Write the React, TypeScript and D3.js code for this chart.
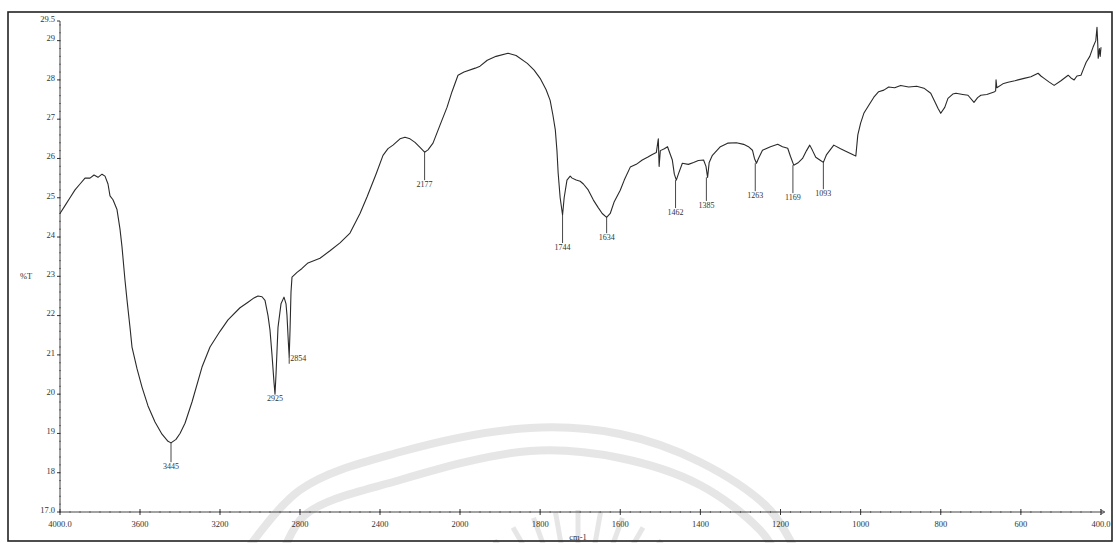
import React from "react";
import * as d3 from "d3";

// ---- Data ----
const wavenumbers = [
  4000, 3975, 3950, 3925, 3900, 3875, 3850, 3830, 3810, 3790, 3775, 3760, 3750, 3735, 3715, 3700, 3690, 3675, 3665, 3650,
  3640, 3615, 3590, 3560, 3525, 3490, 3460, 3445, 3420, 3400, 3375, 3340, 3290, 3250, 3200, 3160, 3100, 3060, 3030, 3010,
  2990, 2975, 2960, 2950, 2940, 2930, 2925, 2920, 2910, 2895, 2880, 2870, 2865, 2858, 2854, 2850, 2845, 2840, 2815, 2790,
  2760, 2700, 2650, 2600, 2550, 2500, 2465, 2420, 2385, 2360, 2335, 2300, 2275, 2250, 2225, 2200, 2177, 2160, 2135, 2100,
  2065, 2040, 2010, 1990, 1962, 1950, 1932, 1910, 1880, 1860, 1832, 1815, 1800, 1785, 1775, 1768, 1762, 1758, 1755, 1750,
  1744, 1740, 1733, 1725, 1720, 1710, 1700, 1692, 1680, 1667, 1655, 1645, 1634, 1625, 1615, 1600, 1590, 1575, 1560, 1545,
  1532, 1520, 1510, 1505, 1503, 1500, 1490, 1482, 1475, 1470, 1465, 1460, 1455, 1445, 1430, 1417, 1405, 1392, 1386, 1382,
  1378, 1370, 1350, 1332, 1310, 1292, 1280, 1270, 1265, 1260, 1255, 1245, 1225, 1207, 1195, 1182, 1175, 1167, 1155, 1145,
  1135, 1127, 1120, 1112, 1100, 1093, 1085, 1067, 1050, 1032, 1020, 1012, 1007, 1000, 992, 980, 967, 955, 942, 930,
  915, 900, 880, 860, 842, 825, 815, 807, 800, 790, 782, 770, 762, 745, 732, 717, 708, 700, 685, 667,
  663, 662, 660, 645, 632, 615, 592, 575, 557, 550, 542, 530, 517, 500, 482, 475, 467, 460, 450, 443,
  437, 428, 420, 413, 410, 408, 407, 404, 402, 400,
];
const transmittance = [
  24.6, 24.8, 25.0, 25.2, 25.35, 25.5, 25.5, 25.58, 25.52, 25.6, 25.55, 25.35, 25.05, 24.95, 24.7, 24.2, 23.75, 22.9, 22.4, 21.7,
  21.2, 20.65, 20.18, 19.7, 19.29, 18.98, 18.8, 18.76, 18.85, 19.0, 19.26, 19.8, 20.69, 21.2, 21.6, 21.89, 22.2, 22.34, 22.45, 22.5,
  22.48, 22.39, 22.0, 21.63, 21.0, 20.3, 20.0, 20.5, 21.7, 22.3, 22.47, 22.3, 22.0, 21.3, 20.95, 21.6, 22.6, 22.98, 23.1, 23.2,
  23.34, 23.46, 23.65, 23.85, 24.1, 24.6, 25.02, 25.6, 26.08, 26.25, 26.34, 26.5, 26.54, 26.5, 26.41, 26.28, 26.16, 26.22, 26.39, 26.85,
  27.3, 27.7, 28.12, 28.2, 28.3, 28.35, 28.5, 28.6, 28.68, 28.62, 28.42, 28.25, 28.04, 27.75, 27.48, 27.1, 26.72, 26.2, 25.63, 25.0,
  24.56, 25.0, 25.45, 25.55, 25.5, 25.45, 25.42, 25.35, 25.2, 24.94, 24.75, 24.6, 24.5, 24.6, 24.9, 25.19, 25.45, 25.78, 25.85, 25.96,
  26.03, 26.1, 26.15, 26.5, 25.8, 26.2, 26.25, 26.3, 26.1, 25.96, 25.6, 25.45, 25.6, 25.88, 25.85, 25.9, 25.95, 25.96, 25.8, 25.52,
  25.9, 26.08, 26.3, 26.39, 26.4, 26.36, 26.3, 26.21, 26.0, 25.88, 26.0, 26.21, 26.3, 26.36, 26.3, 26.26, 26.05, 25.83, 25.9, 26.0,
  26.2, 26.34, 26.2, 26.03, 25.95, 25.9, 26.1, 26.34, 26.25, 26.16, 26.1, 26.06, 26.6, 26.9, 27.15, 27.35, 27.56, 27.7, 27.74, 27.82,
  27.8, 27.86, 27.82, 27.84, 27.79, 27.66, 27.45, 27.28, 27.15, 27.3, 27.53, 27.64, 27.66, 27.63, 27.61, 27.43, 27.55, 27.61, 27.63, 27.69,
  27.72, 28.0, 27.8, 27.9, 27.94, 27.98, 28.04, 28.08, 28.17, 28.1, 28.04, 27.95, 27.86, 27.98, 28.12, 28.05, 28.0, 28.1, 28.12, 28.3,
  28.45, 28.6, 28.83, 29.0, 29.34, 28.9, 28.55, 28.8, 28.6, 28.83,
];

// Annotated peaks: position, and %T level where the label sits
const peakWavenumbers = [3445, 2925, 2854, 2177, 1744, 1634, 1462, 1385, 1263, 1169, 1093];
const peakCurveT = [18.76, 20.0, 20.95, 26.16, 24.56, 24.5, 25.45, 25.52, 25.88, 25.83, 25.9];
const peakLabelT = [18.09, 19.82, 20.85, 25.27, 23.67, 23.92, 24.56, 24.74, 24.99, 24.94, 25.04];

const xTickValues = [4000, 3600, 3200, 2800, 2400, 2000, 1800, 1600, 1400, 1200, 1000, 800, 600, 400];
const xTickLabels = ["4000.0", "3600", "3200", "2800", "2400", "2000", "1800", "1600", "1400", "1200", "1000", "800", "600", "400.0"];
const yTickValues = [29.5, 29, 28, 27, 26, 25, 24, 23, 22, 21, 20, 19, 18, 17];
const yTickLabels = ["29.5", "29", "28", "27", "26", "25", "24", "23", "22", "21", "20", "19", "18", "17.0"];

const W = 1116;
const H = 543;
const FONT = "'Liberation Serif', 'DejaVu Serif', serif";

export default function App() {
  const x = d3.scaleLinear().domain([4000, 2000, 400]).range([60, 460, 1101]);
  const y = d3.scaleLinear().domain([17, 29.5]).range([512, 21]);

  const pts = wavenumbers.map((w, i) => [w, transmittance[i]] as [number, number]);
  const line = d3
    .line<[number, number]>()
    .x((d) => x(d[0]))
    .y((d) => y(d[1]))
    .curve(d3.curveMonotoneX.bind ? d3.curveLinear : d3.curveLinear);
  const path = line(pts) || "";

  // minor ticks
  const yMinor = d3.range(17, 29.51, 0.2);
  const xMinorHigh = d3.range(4000, 2000, -50);
  const xMinorLow = d3.range(2000, 399, -25);

  // watermark (faint background scan artefact)
  const wmOuter: [number, number][] = [
    [240, 560], [300, 490], [400, 452], [530, 428], [620, 434], [700, 462], [770, 510], [800, 560],
  ];
  const wmInner: [number, number][] = [
    [280, 560], [305, 515], [400, 480], [530, 451], [620, 458], [700, 485], [760, 530], [780, 560],
  ];
  const wmLine = d3.line().curve(d3.curveCatmullRom);
  const rayCx = 578;
  const rayCy = 640;
  const rayAngles = d3.range(-160, -19, 10);

  return (
    <svg
      width={W}
      height={H}
      style={{ position: "absolute", left: 0, top: 0, background: "#fff" }}
      fontFamily={FONT}
    >
      <rect x={0} y={0} width={W} height={H} fill="#fff" />
      {/* watermark */}
      <g stroke="#e4e4e4" fill="none" strokeWidth={8} opacity={0.9}>
        <path d={wmLine(wmOuter) || ""} />
        <path d={wmLine(wmInner) || ""} />
        {rayAngles.map((a, i) => {
          const r = (a * Math.PI) / 180;
          return (
            <line
              key={i}
              x1={rayCx + Math.cos(r) * 60}
              y1={rayCy + Math.sin(r) * 60}
              x2={rayCx + Math.cos(r) * 130}
              y2={rayCy + Math.sin(r) * 130}
              strokeWidth={5}
            />
          );
        })}
      </g>

      {/* frame */}
      <rect x={8} y={12} width={1104} height={529} fill="none" stroke="#222" strokeWidth={1.6} />

      {/* y axis */}
      <line x1={60} x2={60} y1={y(29.5)} y2={y(17)} stroke="#444" strokeWidth={1} />
      {yMinor.map((v, i) => (
        <line key={i} x1={59} x2={61} y1={y(v)} y2={y(v)} stroke="#555" strokeWidth={0.8} />
      ))}
      {yTickValues.map((v, i) => (
        <g key={i}>
          <line x1={57} x2={60} y1={y(v)} y2={y(v)} stroke="#333" />
          <text x={55} y={y(v)} dy="0.1em" textAnchor="end" fontSize={8.5} fill="#333">
            {yTickLabels[i]}
          </text>
        </g>
      ))}
      <text x={20} y={y(23) + 3} fontSize={8.5} fill="#333">%T</text>

      {/* x axis */}
      <line x1={60} x2={1104} y1={512} y2={512} stroke="#444" strokeWidth={1} />
      <path d="M1100,509.5 L1105,512 L1100,514.5" fill="none" stroke="#444" strokeWidth={0.8} />
      {xMinorHigh.concat(xMinorLow).map((v, i) => (
        <line key={i} x1={x(v)} x2={x(v)} y1={511} y2={513} stroke="#555" strokeWidth={0.8} />
      ))}
      {xTickValues.map((v, i) => (
        <g key={i}>
          <line x1={x(v)} x2={x(v)} y1={509} y2={515} stroke="#333" />
          <text x={x(v)} y={527} textAnchor="middle" fontSize={8.5} fill="#333">
            {xTickLabels[i]}
          </text>
        </g>
      ))}
      <text x={578} y={540} textAnchor="middle" fontSize={8.5} fill="#333">cm-1</text>

      {/* spectrum */}
      <path d={path} fill="none" stroke="#2a2a2a" strokeWidth={1.1} strokeLinejoin="round" />

      {/* peak annotations */}
      {peakWavenumbers.map((w, i) => {
        const px = x(w);
        const right = w === 2854;
        const labelY = y(peakLabelT[i]);
        return (
          <g key={w}>
            <line
              x1={px}
              x2={px}
              y1={y(peakCurveT[i])}
              y2={right ? labelY + 3 : labelY - 7}
              stroke="#333"
              strokeWidth={0.9}
            />
            <text
              x={right ? px + 1 : px}
              y={labelY}
              textAnchor={right ? "start" : "middle"}
              fontSize={8}
              fill="#333"
            >
              {w}
            </text>
          </g>
        );
      })}
    </svg>
  );
}
